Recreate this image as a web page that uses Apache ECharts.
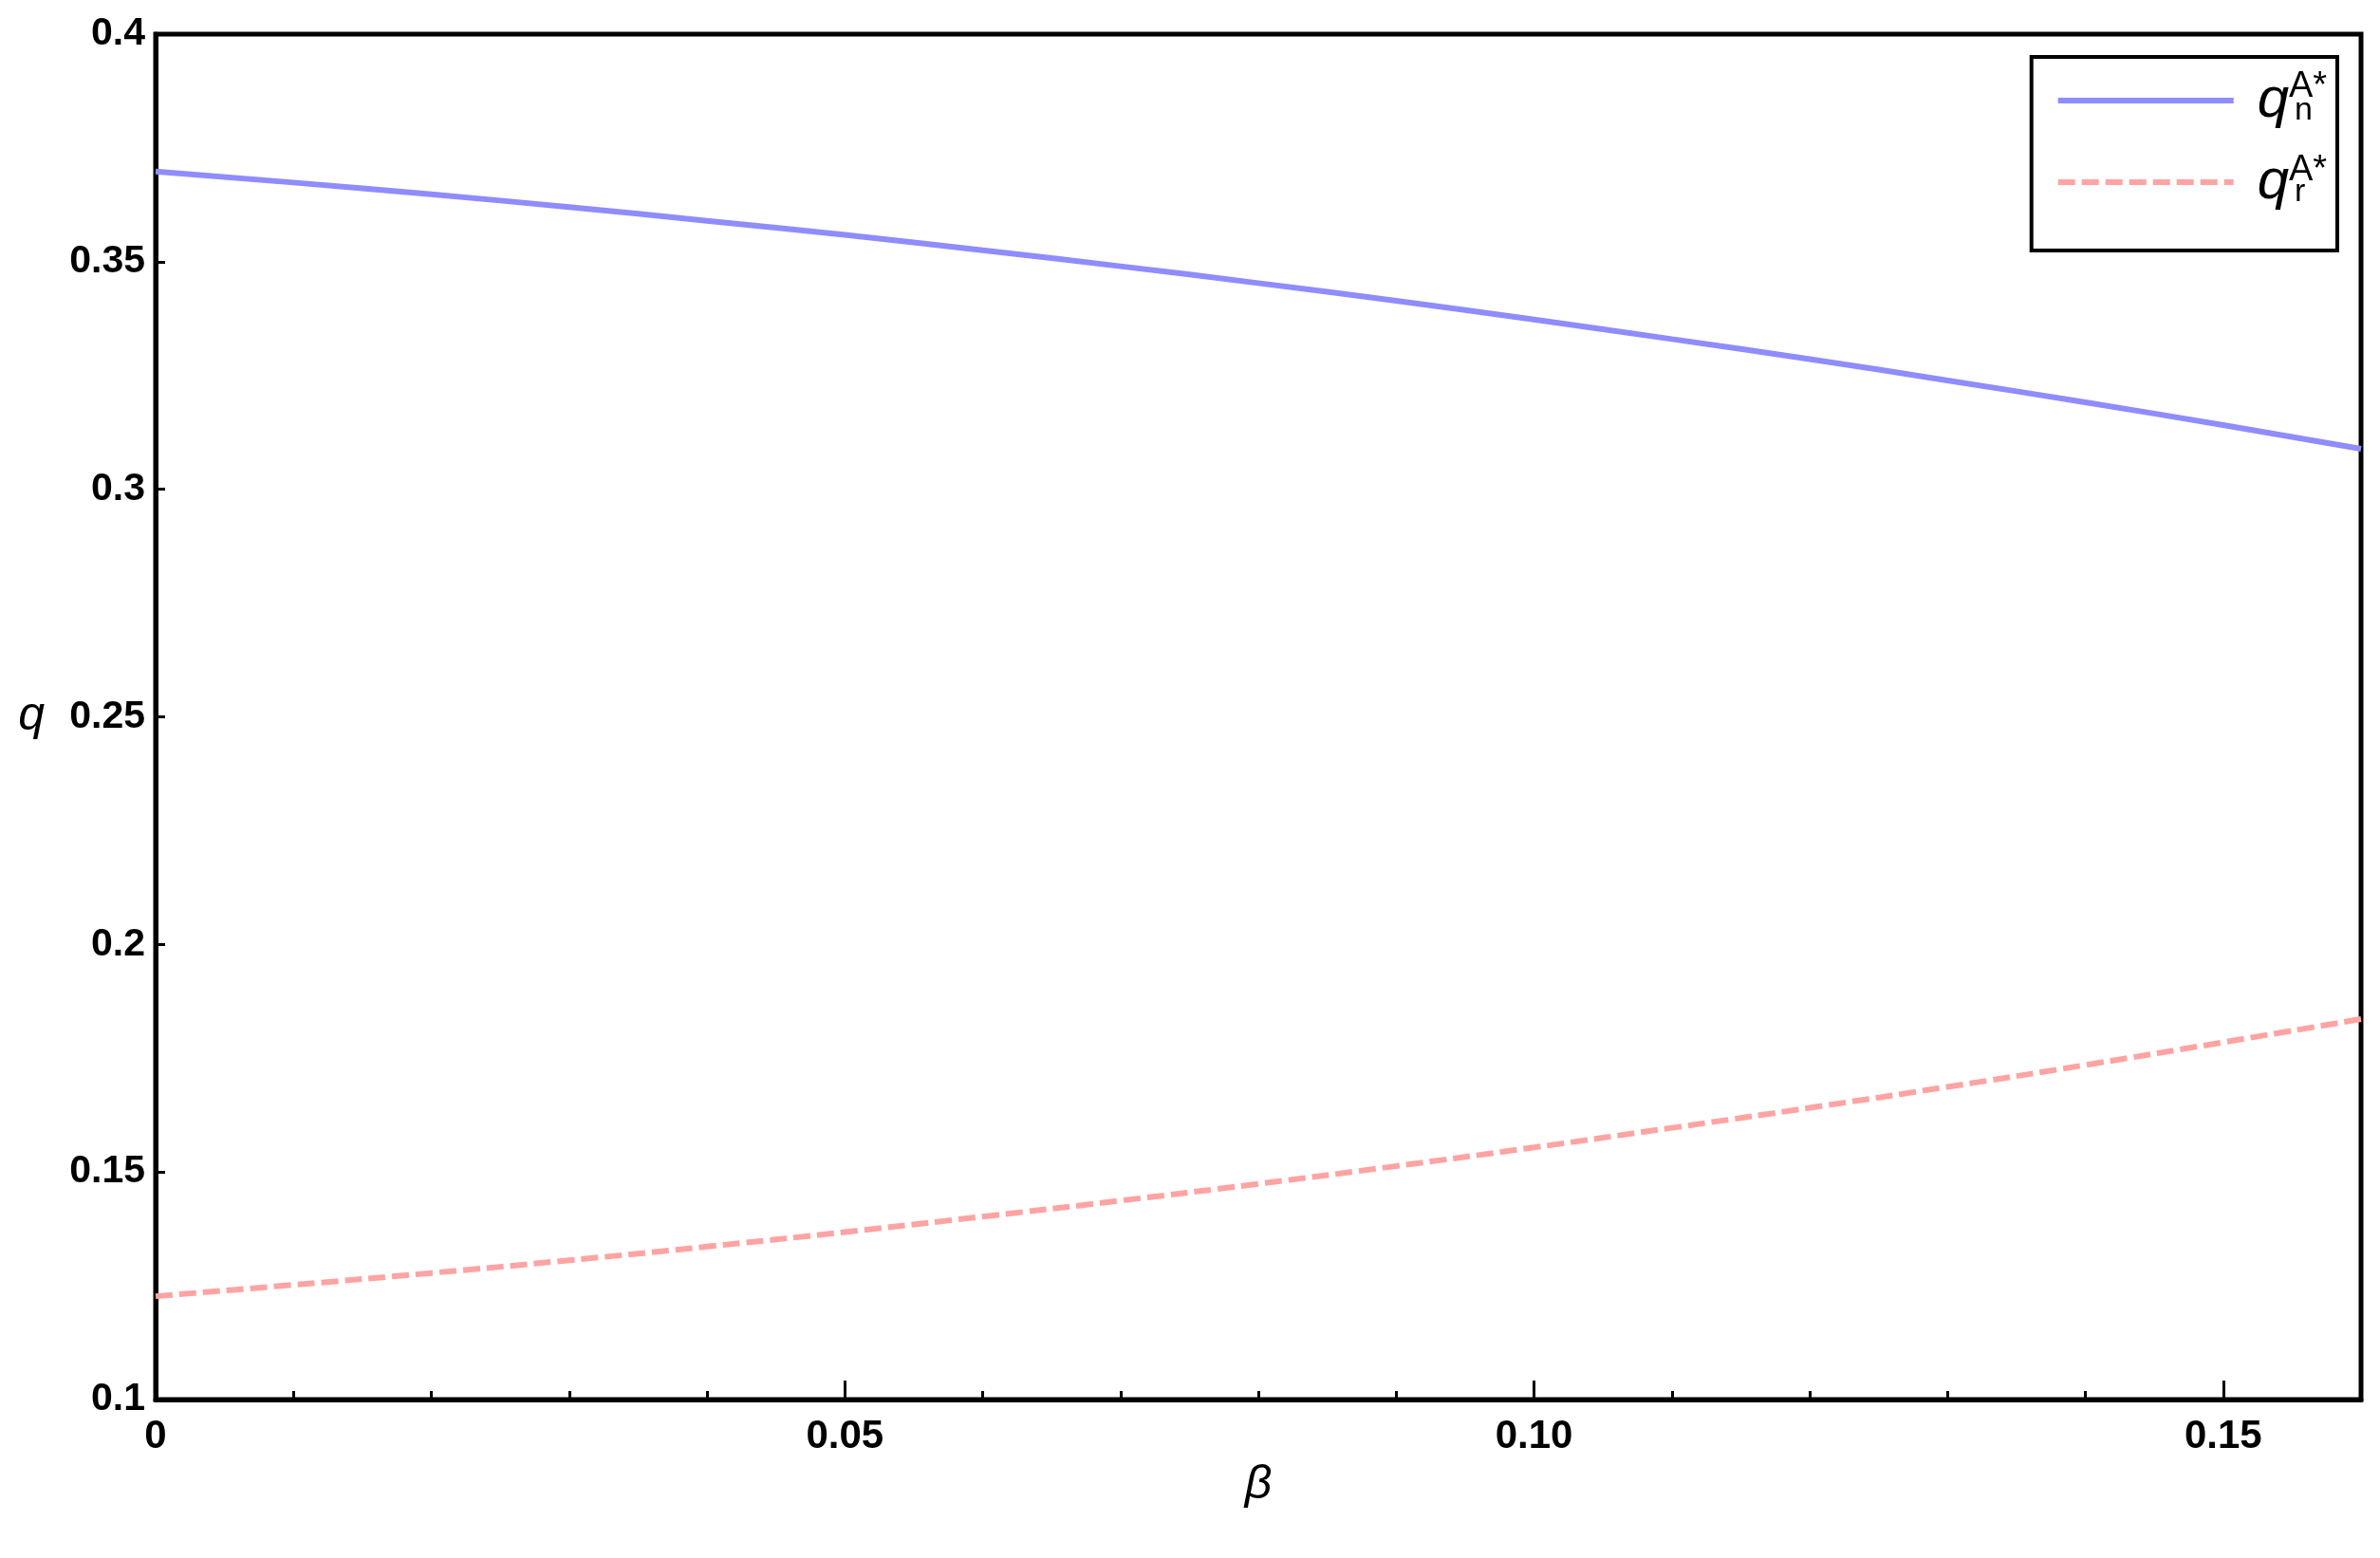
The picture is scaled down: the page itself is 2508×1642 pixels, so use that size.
<!DOCTYPE html>
<html>
<head>
<meta charset="utf-8">
<title>q vs beta</title>
<script src="https://cdn.jsdelivr.net/npm/echarts@6/dist/echarts.min.js"></script>
<style>
  html, body { margin: 0; padding: 0; background: #fff; }
  #chart { width: 2508px; height: 1642px; }
</style>
</head>
<body>
<div id="chart"></div>
<script>
// beta 取值（横轴）
var beta = [0, 0.01, 0.02, 0.03, 0.04, 0.05, 0.06, 0.07, 0.08,
  0.09, 0.10, 0.11, 0.12, 0.13, 0.14, 0.15, 0.16];
// q_n^{A*}，实线
var qn = [0.3698, 0.3674, 0.3648, 0.3620, 0.3590, 0.3559, 0.3525, 0.3490, 0.3453,
  0.3414, 0.3373, 0.3330, 0.3286, 0.3239, 0.3191, 0.3141, 0.3089];
// q_r^{A*}，虚线
var qr = [0.1227, 0.1252, 0.1278, 0.1306, 0.1336, 0.1368, 0.1402, 0.1437, 0.1474,
  0.1513, 0.1554, 0.1597, 0.1641, 0.1687, 0.1735, 0.1785, 0.1836];
// 刻度文字
var xTickLabels = ["0", "0.05", "0.10", "0.15"];
var xTickValues = [0, 0.05, 0.10, 0.15];
var yTickLabels = ["0.1", "0.15", "0.2", "0.25", "0.3", "0.35", "0.4"];
var seriesNames = ["qn", "qr"];
var subs = { qn: "n", qr: "r" };

var font = "Liberation Sans, Arial, sans-serif";

function pair(xs, ys) {
  var out = [];
  for (var i = 0; i < xs.length; i++) out.push([xs[i], ys[i]]);
  return out;
}

var chart = echarts.init(document.getElementById("chart"));

var option = {
  backgroundColor: "#fff",
  animation: false,
  grid: {
    left: 164,
    right: 20,
    top: 36,
    bottom: 167,
    show: true,
    borderColor: "#000",
    borderWidth: 5
  },
  legend: {
    data: seriesNames,
    orient: "vertical",
    right: 45,
    top: 60,
    itemWidth: 185,
    itemHeight: 20,
    itemGap: 26,
    padding: [16, 26, 42, 25],
    borderColor: "#000",
    borderWidth: 4,
    backgroundColor: "#fff",
    itemStyle: { opacity: 0 },
    lineStyle: { width: 6 },
    formatter: function(name) {
      return "{q|q}{s|" + subs[name] + "}";
    },
    textStyle: {
      rich: {
        q: {
          fontFamily: font,
          fontStyle: "italic",
          fontSize: 60,
          lineHeight: 50,
          color: "#000",
          padding: [0, 0, 0, 20]
        },
        s: {
          fontFamily: font,
          fontSize: 34,
          lineHeight: 50,
          color: "#000",
          padding: [22, 0, 0, 6]
        }
      }
    }
  },
  // 上标 A*
  graphic: [
    { type: "text", z: 100, left: 2412, top: 73, style: { text: "A*", font: "38px " + font, fill: "#000" } },
    { type: "text", z: 100, left: 2412, top: 161, style: { text: "A*", font: "38px " + font, fill: "#000" } }
  ],
  xAxis: [
    {
      type: "value",
      min: 0,
      max: 0.16,
      interval: 0.05,
      position: "bottom",
      name: "β",
      nameLocation: "middle",
      nameGap: 32,
      nameTextStyle: { fontFamily: font, fontStyle: "italic", fontSize: 50, color: "#000" },
      axisLine: { show: true, onZero: false, lineStyle: { color: "#000", width: 5 } },
      axisTick: { show: true, inside: true, length: 20, lineStyle: { color: "#000", width: 3 } },
      axisLabel: {
        margin: 18,
        fontFamily: font,
        fontWeight: "bold",
        fontSize: 42,
        color: "#000",
        showMaxLabel: false,
        formatter: function(v) {
          for (var i = 0; i < xTickValues.length; i++) {
            if (Math.abs(v - xTickValues[i]) < 1e-9) return xTickLabels[i];
          }
          return "";
        }
      },
      splitLine: { show: false }
    },
    {
      // 0.01 细刻度
      type: "value",
      min: 0,
      max: 0.16,
      interval: 0.01,
      position: "bottom",
      axisLine: { show: false, onZero: false },
      axisTick: { show: true, inside: true, length: 9, lineStyle: { color: "#000", width: 3 } },
      axisLabel: { show: false },
      splitLine: { show: false }
    }
  ],
  yAxis: {
    type: "value",
    min: 0.1,
    max: 0.4,
    interval: 0.05,
    name: "q",
    nameLocation: "middle",
    nameRotate: 0,
    nameGap: 117,
    nameTextStyle: { fontFamily: font, fontStyle: "italic", fontSize: 50, color: "#000", padding: [38, 0, 0, 0] },
    axisLine: { show: true, onZero: false, lineStyle: { color: "#000", width: 5 } },
    axisTick: { show: true, inside: true, length: 10, lineStyle: { color: "#000", width: 3 } },
    axisLabel: {
      margin: 11,
      fontFamily: font,
      fontWeight: "bold",
      fontSize: 41,
      color: "#000",
      formatter: function(v) {
        var idx = Math.round((v - 0.1) / 0.05);
        return yTickLabels[idx] || "";
      }
    },
    splitLine: { show: false }
  },
  series: [
    {
      name: "qn",
      type: "line",
      xAxisIndex: 0,
      data: pair(beta, qn),
      smooth: true,
      symbol: "none",
      color: "#8f8cff",
      lineStyle: { color: "#8f8cff", width: 6 }
    },
    {
      name: "qr",
      type: "line",
      xAxisIndex: 0,
      data: pair(beta, qr),
      smooth: true,
      symbol: "none",
      color: "#ffa3a3",
      lineStyle: { color: "#ffa3a3", width: 6, type: [18, 7] }
    }
  ]
};

chart.setOption(option);
</script>
</body>
</html>
